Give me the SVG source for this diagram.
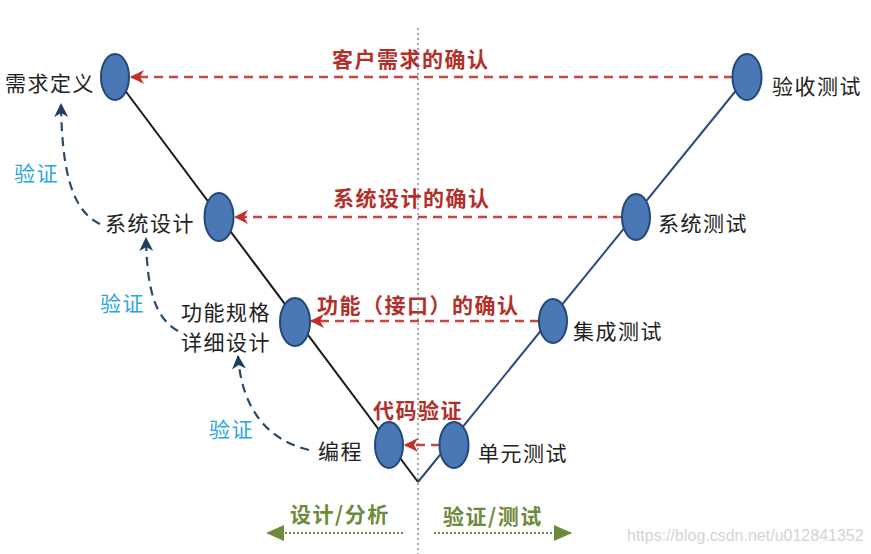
<svg xmlns="http://www.w3.org/2000/svg" width="871" height="554" viewBox="0 0 871 554">
<defs>
<style>
.node{fill:#4a78b5;stroke:#23487a;stroke-width:2}
.lbl{font-family:"Noto Sans CJK SC",sans-serif;font-size:21px;fill:#222;letter-spacing:1.5px;dominant-baseline:central}
.red{font-family:"Noto Sans CJK SC",sans-serif;font-size:21px;fill:#b3302a;font-weight:bold;letter-spacing:1.5px;dominant-baseline:central}
.cyan{font-family:"Noto Sans CJK SC",sans-serif;font-size:21px;fill:#2aa6df;letter-spacing:1.5px;dominant-baseline:central}
.green{font-family:"Noto Sans CJK SC",sans-serif;font-size:21px;fill:#6e8a3c;font-weight:bold;letter-spacing:1.5px;dominant-baseline:central}
.rd{stroke:#c8463c;stroke-width:2.5;stroke-dasharray:9 6;fill:none}
.bd{stroke:#2b4a6b;stroke-width:2.2;stroke-dasharray:9 6;fill:none}
.gd{stroke:#6e8a3c;stroke-width:2;stroke-dasharray:2 2;fill:none}
</style>
<marker id="ar" markerWidth="14" markerHeight="14" refX="13" refY="7" orient="auto" markerUnits="userSpaceOnUse"><path d="M0,0 L14,7 L0,14 L4,7 Z" fill="#c0302a"/></marker>
<marker id="ab" markerWidth="14" markerHeight="14" refX="13" refY="7" orient="auto" markerUnits="userSpaceOnUse"><path d="M0,0 L14,7 L0,14 L4,7 Z" fill="#1f3d5e"/></marker>
<marker id="ag" markerWidth="18" markerHeight="16" refX="17" refY="8" orient="auto" markerUnits="userSpaceOnUse"><path d="M0,0 L18,8 L0,16 Z" fill="#6e8a3c"/></marker>
</defs>
<rect width="871" height="554" fill="#fff"/>
<g id="connectors">
<line x1="418" y1="28" x2="418" y2="554" stroke="#8a8a8a" stroke-width="1.5" stroke-dasharray="2 3"/>
<polyline points="115,77 418,482" fill="none" stroke="#1a1a1a" stroke-width="2"/>
<polyline points="418,482 747,77" fill="none" stroke="#2c4a7c" stroke-width="2"/>
<line class="rd" x1="733" y1="77" x2="131" y2="77" marker-end="url(#ar)"/>
<line class="rd" x1="622" y1="217" x2="235" y2="217" marker-end="url(#ar)"/>
<line class="rd" x1="539" y1="321" x2="311" y2="321" marker-end="url(#ar)"/>
<line class="rd" x1="440" y1="445" x2="405" y2="445" marker-end="url(#ar)"/>
<path class="bd" d="M100,224 C75,212 62,180 61,104" marker-end="url(#ab)"/>
<path class="bd" d="M178,331 C155,318 147,290 146,238" marker-end="url(#ab)"/>
<path class="bd" d="M309,450 C268,440 242,410 238,356" marker-end="url(#ab)"/>
<line class="gd" x1="403" y1="533" x2="267" y2="533" marker-end="url(#ag)"/>
<line class="gd" x1="434" y1="533" x2="571" y2="533" marker-end="url(#ag)"/>
</g>
<g id="n-req"><ellipse class="node" cx="115" cy="77" rx="14" ry="23"/><text class="lbl" x="5" y="82">需求定义</text></g>
<g id="n-sysdesign"><ellipse class="node" cx="219" cy="217" rx="14.5" ry="24"/><text class="lbl" x="105" y="222">系统设计</text></g>
<g id="n-detail"><ellipse class="node" cx="295" cy="322" rx="15" ry="24"/><text class="lbl" x="181" y="311">功能规格</text><text class="lbl" x="181" y="341">详细设计</text></g>
<g id="n-code"><ellipse class="node" cx="389" cy="445" rx="14" ry="23"/><text class="lbl" x="318" y="450">编程</text></g>
<g id="n-unit"><ellipse class="node" cx="454" cy="445" rx="14.5" ry="23"/><text class="lbl" x="478" y="452">单元测试</text></g>
<g id="n-integ"><ellipse class="node" cx="553" cy="321" rx="14" ry="22"/><text class="lbl" x="573" y="330">集成测试</text></g>
<g id="n-systest"><ellipse class="node" cx="636" cy="217" rx="14" ry="23"/><text class="lbl" x="658" y="222">系统测试</text></g>
<g id="n-accept"><ellipse class="node" cx="747" cy="77" rx="14.5" ry="23"/><text class="lbl" x="772" y="85">验收测试</text></g>
<g id="labels">
<text class="red" x="332" y="58">客户需求的确认</text>
<text class="red" x="333" y="197">系统设计的确认</text>
<text class="red" x="317" y="304">功能（接口）的确认</text>
<text class="red" x="373" y="409">代码验证</text>
<text class="cyan" x="14" y="172">验证</text>
<text class="cyan" x="100" y="302">验证</text>
<text class="cyan" x="209" y="428">验证</text>
<text class="green" x="290" y="513">设计/分析</text>
<text class="green" x="443" y="515">验证/测试</text>
<text x="627" y="541" font-family="Liberation Sans, sans-serif" font-size="16" fill="#d4d4d4">https://blog.csdn.net/u012841352</text>
</g>
</svg>
